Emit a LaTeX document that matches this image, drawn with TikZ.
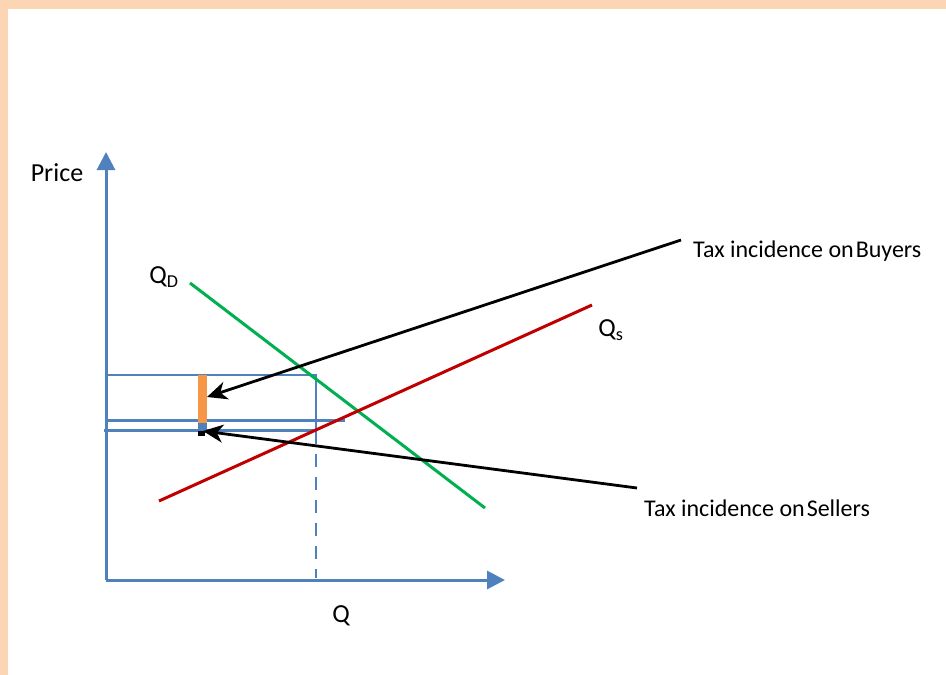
\documentclass[tikz,border=0pt]{standalone}
\usepackage{fontspec}
\setmainfont{Carlito}
\usetikzlibrary{arrows.meta}
\definecolor{axblue}{HTML}{4F81BD}
\definecolor{dgreen}{HTML}{00B050}
\definecolor{dred}{HTML}{C00000}
\definecolor{borange}{HTML}{F79646}
\definecolor{peach}{HTML}{FCD5B4}
\tikzset{
  axis/.style={draw=axblue, line width=3pt, -{Triangle[length=18pt,width=18pt]}},
  guide/.style={draw=axblue, line width=2.4pt},
  curve/.style={line width=3pt},
  taxarrow/.style={draw=black, line width=2.8pt, -{Stealth[length=20pt,width=18pt,inset=6pt]}},
  lbl/.style={font=\fontsize{26}{30}\selectfont, inner sep=0pt, text=black},
  sublbl/.style={font=\fontsize{24}{28}\selectfont, inner sep=0pt, anchor=west}
}
\begin{document}
\begin{tikzpicture}[x=1pt,y=-1pt]
\useasboundingbox (0,0) rectangle (946,675);
% border
\fill[peach] (0,0) rectangle (946,9);
\fill[peach] (0,0) rectangle (8,675);

% coordinates
\coordinate (O) at (106,580);
\coordinate (ytip) at (106,152);
\coordinate (xtip) at (505,580);

% guide lines
\coordinate (h1a) at (106,375); \coordinate (h1b) at (317,375);
\coordinate (h2a) at (106,420.5); \coordinate (h2b) at (345,420.5);
\coordinate (h3a) at (104,430.5); \coordinate (h3b) at (316,430.5);
\coordinate (v1) at (316,375); \coordinate (v2) at (316,430.5); \coordinate (v3) at (316,578);
\draw[guide] (h1a) -- (h1b);
\draw[guide] (h2a) -- (h2b);
\draw[guide] (h3a) -- (h3b);
\draw[guide] (v1) -- (v2);
\draw[guide, dash pattern=on 13pt off 10pt] (v2) -- (v3);

% axes
\draw[axis] (O) -- (ytip);
\draw[axis] (O) -- (xtip);

% demand and supply
\coordinate (d1) at (190,283); \coordinate (d2) at (485,508);
\coordinate (s1) at (159,501); \coordinate (s2) at (592,305);
\draw[curve, dgreen] (d1) -- (d2);
\draw[curve, dred] (s1) -- (s2);

% tax bars
\fill[borange] (197.5,375) rectangle (206.5,423);
\fill[axblue] (197.5,423) rectangle (206.5,433);
\fill[black] (198,430.5) rectangle (205,436);

% arrows
\coordinate (b1) at (681,240); \coordinate (b2) at (207,397);
\coordinate (c1) at (637,488); \coordinate (c2) at (203,431);
\draw[taxarrow] (b1) -- (b2);
\draw[taxarrow] (c1) -- (c2);

% labels
\node[lbl] (price) at (57,173) {Price};
\node[lbl] (q) at (341,616) {Q};
\node[lbl] (qd) at (164,277) {Q\textsubscript{D}};
\node[lbl] (qs) at (611,330) {Q\textsubscript{s}};
\node[sublbl] (buy) at (693,251) {Tax incidence on\kern2pt Buyers};
\node[sublbl] (sell) at (644,508) {Tax incidence on\kern2pt Sellers};
\end{tikzpicture}
\end{document}
